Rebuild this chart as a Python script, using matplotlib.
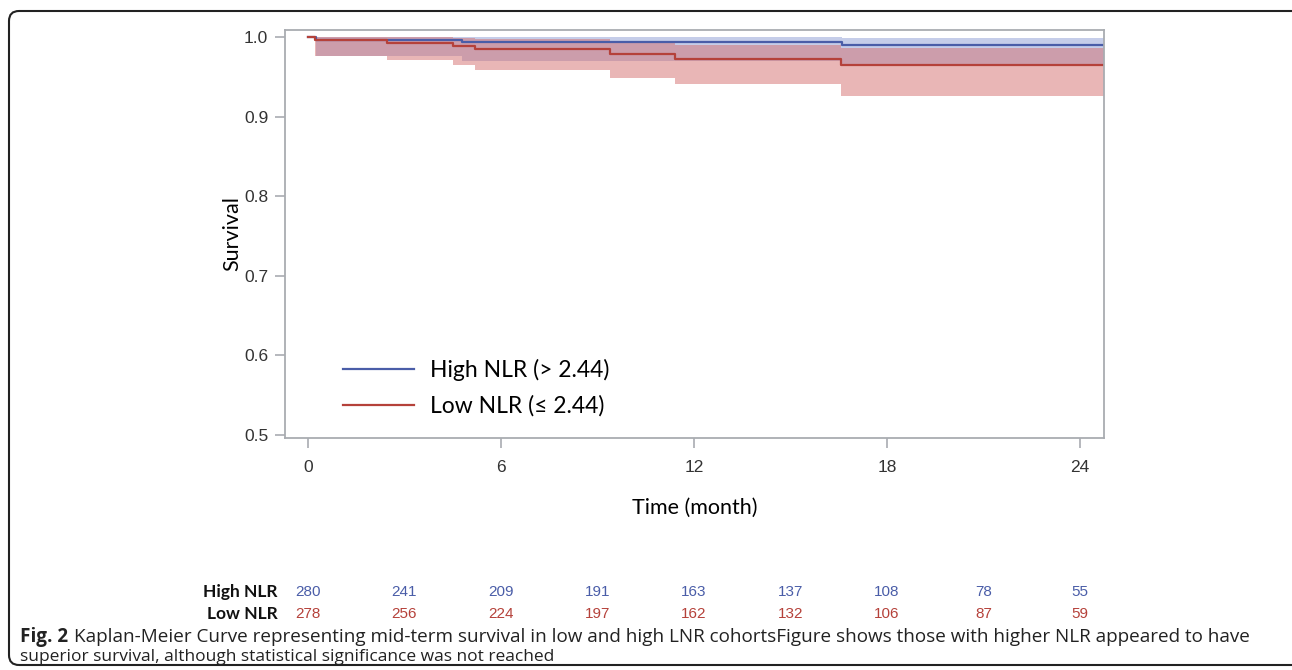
import matplotlib
matplotlib.use('Agg')
import matplotlib.pyplot as plt
from matplotlib.patches import FancyBboxPatch

# Kaplan-Meier steps (time in months)
high_t = [0, 0.25, 4.8, 16.6, 24.75]
high_s = [1.0, 0.9965, 0.9935, 0.990, 0.990]
high_lo = [1.0, 0.976, 0.970, 0.964, 0.964]
high_hi = [1.0, 1.0, 1.0, 0.999, 0.999]

low_t = [0, 0.22, 2.45, 4.5, 5.19, 9.39, 11.4, 16.56, 24.75]
low_s = [1.0, 0.997, 0.993, 0.989, 0.985, 0.979, 0.973, 0.965, 0.965]
low_lo = [1.0, 0.976, 0.971, 0.965, 0.959, 0.949, 0.941, 0.926, 0.926]
low_hi = [1.0, 1.0, 1.0, 0.999, 0.998, 0.995, 0.990, 0.986, 0.986]

risk_times = [0, 3, 6, 9, 12, 15, 18, 21, 24]
risk_high = [280, 241, 209, 191, 163, 137, 108, 78, 55]
risk_low = [278, 256, 224, 197, 162, 132, 106, 87, 59]

x_ticks = [0, 6, 12, 18, 24]
y_ticks = [0.5, 0.6, 0.7, 0.8, 0.9, 1.0]

blue = '#4A5DA8'
red = '#B5413A'
grey = '#A9ACB1'
sans = ['Lato', 'DejaVu Sans']
arial = ['Liberation Sans', 'DejaVu Sans']
cap_font = ['Open Sans', 'DejaVu Sans']

W, H = 1292, 670
fig = plt.figure(figsize=(W / 100, H / 100), dpi=100)
ax = fig.add_axes([285 / W, 1 - 438 / H, 819 / W, 408 / H])

ax.fill_between(high_t, high_lo, high_hi, step='post', color='#8090D0', alpha=0.45, lw=0)
ax.fill_between(low_t, low_lo, low_hi, step='post', color='#D46E6E', alpha=0.5, lw=0)
ax.step(high_t, high_s, where='post', color=blue, lw=1.6, label='High NLR (> 2.44)')
ax.step(low_t, low_s, where='post', color=red, lw=1.6, label='Low NLR (≤ 2.44)')

ax.set_xlim(-0.71, 24.75)
ax.set_ylim(0.496, 1.009)
ax.set_xticks(x_ticks)
ax.set_yticks(y_ticks)
ax.set_yticklabels(['%.1f' % v for v in y_ticks])
for sp in ax.spines.values():
    sp.set_color(grey)
    sp.set_linewidth(1.3)
ax.tick_params(axis='both', color=grey, length=7, width=1.2, labelsize=12.5, labelcolor='#333333')
ax.tick_params(axis='x', pad=8.5)
ax.tick_params(axis='y', pad=5)
for lab in ax.get_xticklabels() + ax.get_yticklabels():
    lab.set_family(arial)

ax.set_ylabel('Survival', fontsize=15.5, family=sans, labelpad=1)
ax.set_xlabel('Time (month)', fontsize=15.5, family=sans, labelpad=17)

leg = ax.legend(loc='upper left', bbox_to_anchor=(0.071, 0.195), frameon=False,
                prop={'family': sans, 'size': 16.5}, handlelength=3.1, handletextpad=0.7,
                labelspacing=0.65, borderpad=0, borderaxespad=0)

# number at risk table
xt = ax.get_xaxis_transform()
for row_y, name, vals, col in [(-0.377, 'High NLR', risk_high, blue), (-0.431, 'Low NLR', risk_low, red)]:
    ax.text(-0.95, row_y, name, transform=xt, ha='right', va='center', fontsize=12.5,
            family=sans, fontweight='bold', color='#111111', clip_on=False)
    for t, v in zip(risk_times, vals):
        ax.text(t, row_y, str(v), transform=xt, ha='center', va='center', fontsize=11,
                family=arial, color=col, clip_on=False)

# caption
t1 = fig.text(20 / W, 1 - 637 / H, 'Fig. 2', fontsize=13.6, fontweight='bold',
              family=cap_font, va='center', color='#222222')
ax.annotate('Kaplan-Meier Curve representing mid-term survival in low and high LNR cohortsFigure shows those with higher NLR appeared to have',
            xy=(1, 0.5), xycoords=t1, xytext=(4, 0), textcoords='offset points', va='center',
            fontsize=13.6, family=cap_font, color='#222222', annotation_clip=False)
fig.text(20 / W, 1 - 657 / H, 'superior survival, although statistical significance was not reached',
         fontsize=12.5, family=cap_font, va='center', color='#222222')

box = FancyBboxPatch((9, H - 665), 1300, 665 - 11, boxstyle='round,pad=0,rounding_size=10',
                     transform=None, fill=False, ec='#222222', lw=1.5, clip_on=False)
fig.add_artist(box)

fig.savefig('out.png', dpi=100)
